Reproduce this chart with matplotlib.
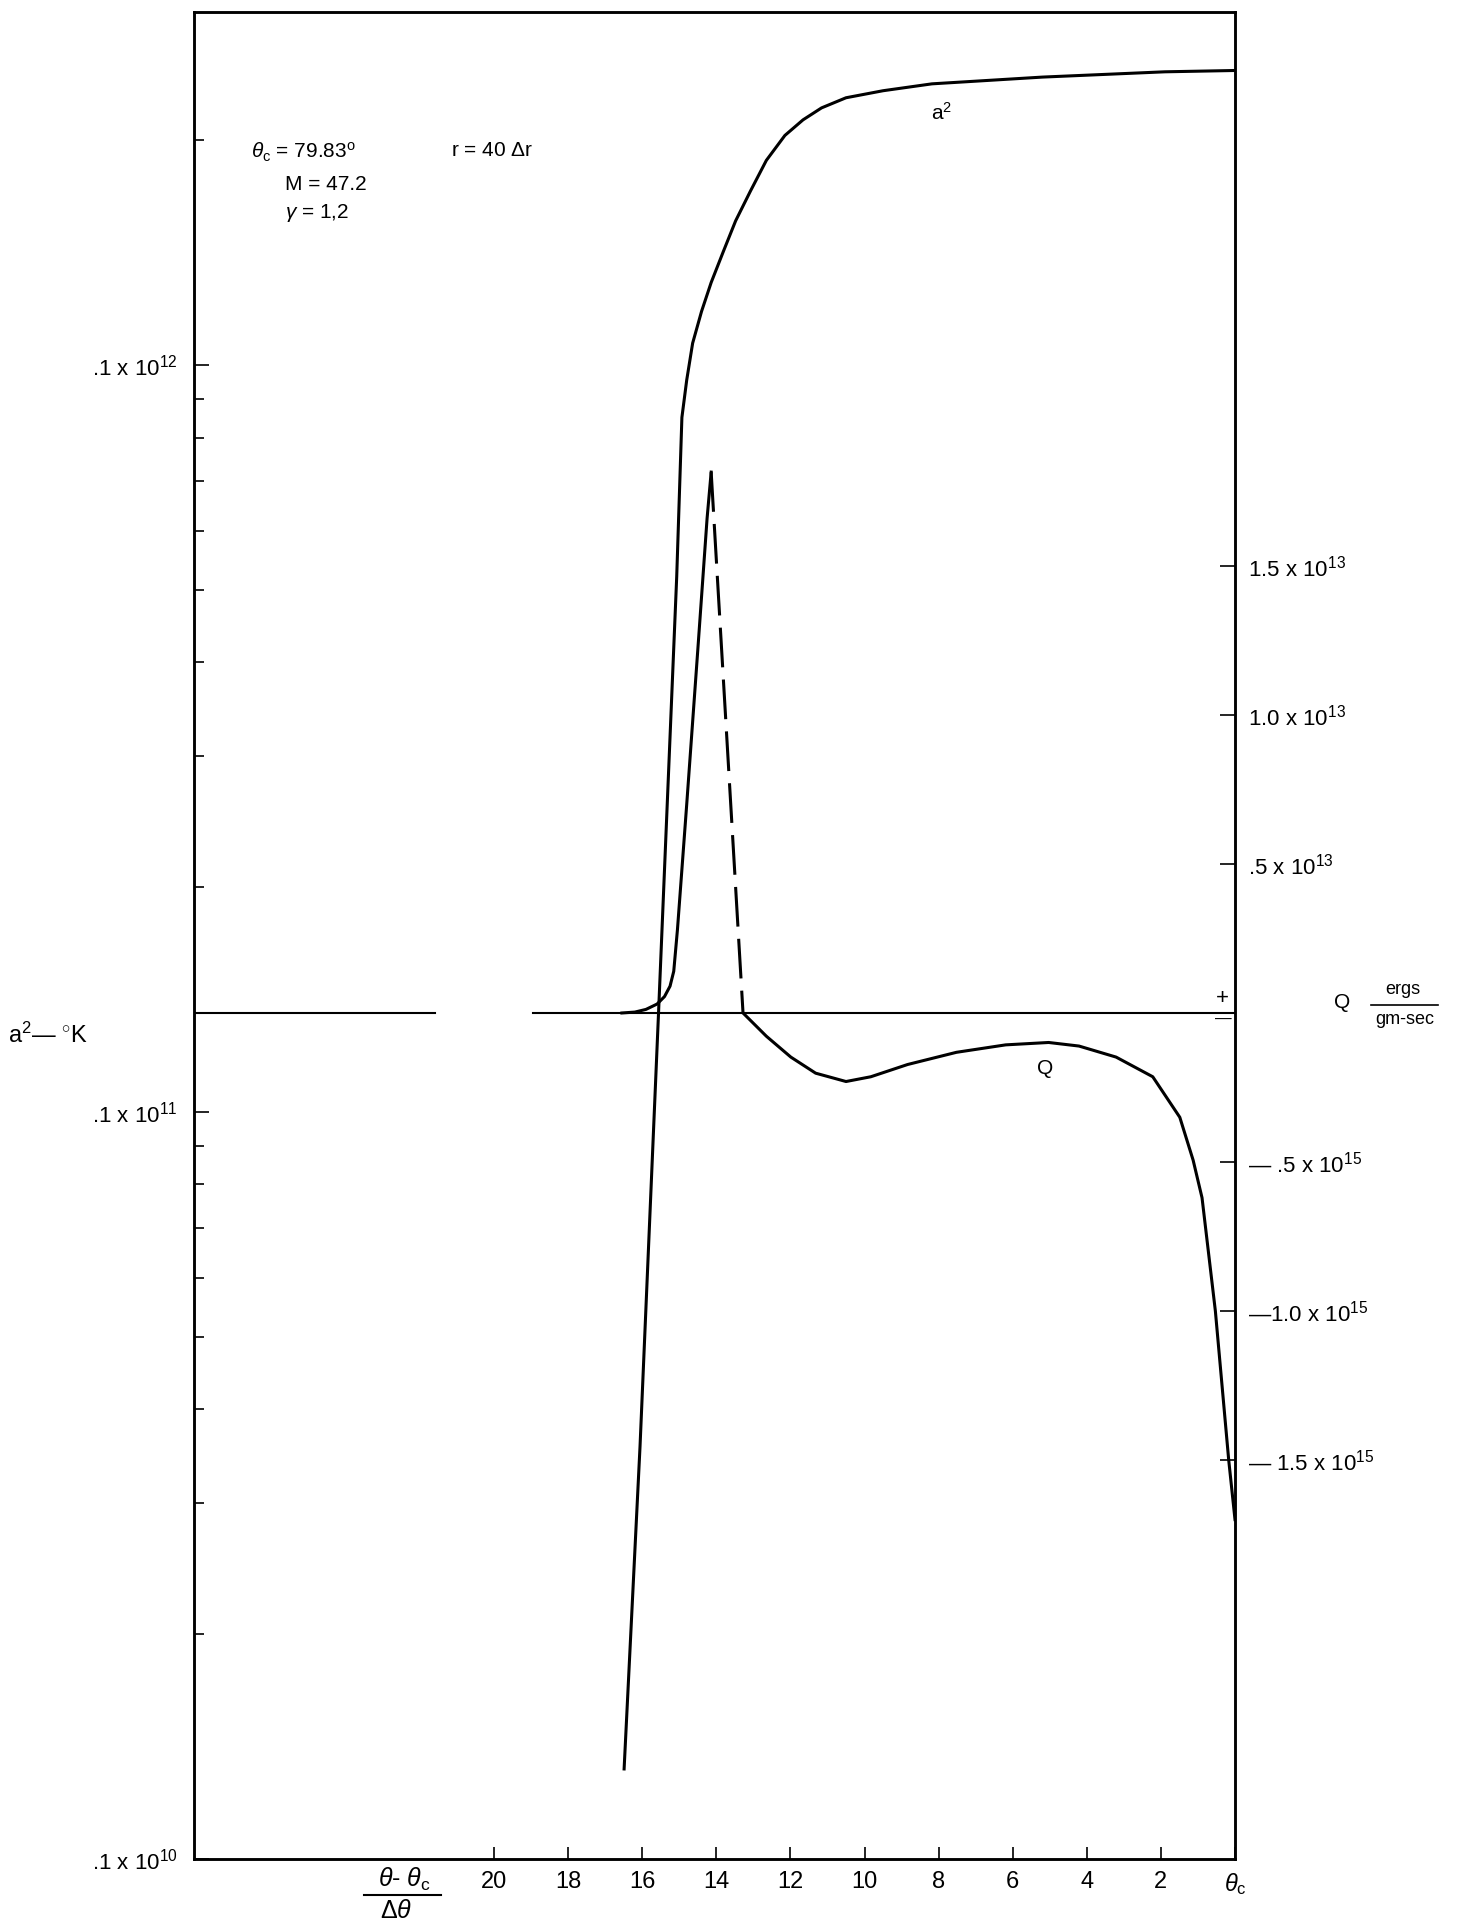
import matplotlib
matplotlib.use("Agg")
import matplotlib.pyplot as plt
from matplotlib.lines import Line2D
from matplotlib.ticker import LogLocator, NullFormatter, FixedLocator
from matplotlib import font_manager
import numpy as np

# a^2 (deg K) vs (theta - theta_c)/dtheta, left log axis
THETA_A2 = [16.49, 16.06, 15.56, 15.07, 14.93, 14.80, 14.64, 14.40, 14.14,
            13.81, 13.48, 13.08, 12.65, 12.15, 11.66, 11.16, 10.50, 9.50,
            8.18, 5.20, 1.89, 0.0]
A2 = [1.32e9, 3.57e9, 1.36e10, 5.21e10, 8.51e10, 9.55e10, 1.07e11, 1.18e11,
      1.29e11, 1.42e11, 1.56e11, 1.71e11, 1.88e11, 2.03e11, 2.13e11, 2.21e11,
      2.28e11, 2.33e11, 2.38e11, 2.43e11, 2.47e11, 2.48e11]

# Q (ergs/gm-sec), right axis; + side graduated in 1e13, - side in 1e15
THETA_Q_RISE = [16.55, 16.20, 15.90, 15.60, 15.40, 15.25, 15.15, 15.05,
                14.80, 14.50, 14.25, 14.14]
Q_RISE = [0.0, 0.003e13, 0.012e13, 0.030e13, 0.055e13, 0.090e13, 0.140e13,
          0.280e13, 0.700e13, 1.220e13, 1.660e13, 1.815e13]
THETA_Q_DASH = [14.14, 13.28]
Q_DASH = [1.815e13, 0.0]
THETA_Q_NEG = [13.28, 12.65, 11.99, 11.32, 10.50, 9.83, 8.84, 7.52, 6.19,
               5.03, 4.21, 3.21, 2.22, 1.49, 1.13, 0.89, 0.53, 0.17, 0.0]
Q_NEG = [0.0, -0.078e15, -0.148e15, -0.202e15, -0.230e15, -0.214e15,
         -0.173e15, -0.132e15, -0.107e15, -0.099e15, -0.111e15, -0.148e15,
         -0.214e15, -0.350e15, -0.494e15, -0.620e15, -1.000e15, -1.500e15,
         -1.700e15]

X_TICKS = [20, 18, 16, 14, 12, 10, 8, 6, 4, 2, 0]
X_TICK_LABELS = ["20", "18", "16", "14", "12", "10", "8", "6", "4", "2",
                 r"$\theta_{\rm c}$"]
A2_TICKS = [1e9, 1e10, 1e11]
A2_TICK_LABELS = [r".1 x 10$^{10}$", r".1 x 10$^{11}$", r".1 x 10$^{12}$"]
Q_TICKS = [1.5e13, 1.0e13, 0.5e13, -0.5e15, -1.0e15, -1.5e15]
Q_TICK_LABELS = [r"1.5 x 10$^{13}$", r"1.0 x 10$^{13}$", r".5 x 10$^{13}$",
                 r"— .5 x 10$^{15}$", r"—1.0 x 10$^{15}$",
                 r"— 1.5 x 10$^{15}$"]


def q_axis(q):
    q = np.asarray(q, dtype=float)
    return np.where(q >= 0, q / 1e13, q / 1e15)


W, H = 1457, 1923


def px(x, y):
    return x / W, 1 - y / H


plt.rcParams["font.family"] = ["Liberation Sans", "DejaVu Sans"]
plt.rcParams["mathtext.fontset"] = "custom"
plt.rcParams["mathtext.rm"] = "Liberation Sans"
plt.rcParams["mathtext.it"] = "Liberation Sans:italic"
plt.rcParams["mathtext.bf"] = "Liberation Sans:bold"

names = {f.name for f in font_manager.fontManager.ttflist}
narrow = "Liberation Sans Narrow" if "Liberation Sans Narrow" in names else "Liberation Sans"

fig = plt.figure(figsize=(W / 100, H / 100), dpi=100)
ax = fig.add_axes([194 / W, 1 - 1859 / H, 1041 / W, 1847 / H])
ax.set_yscale("log")
ax.set_xlim(28.1, 0)
ax.set_ylim(1e9, 2.97e11)

ax2 = ax.twinx()
ax2.set_ylim(-2.839, 3.359)

for a in (ax, ax2):
    for s in a.spines.values():
        s.set_linewidth(1.8)

# left axis
ax.yaxis.set_major_locator(FixedLocator(A2_TICKS))
ax.set_yticklabels(A2_TICK_LABELS)
ax.yaxis.set_minor_locator(LogLocator(base=10, subs=[2, 3, 4, 5, 6, 7, 8, 9]))
ax.yaxis.set_minor_formatter(NullFormatter())
ax.tick_params(axis="y", which="major", direction="in", length=11, width=1.2,
               pad=12, labelsize=16)
ax.tick_params(axis="y", which="minor", direction="in", length=7, width=1.2)

# bottom axis
ax.set_xticks(X_TICKS)
ax.set_xticklabels(X_TICK_LABELS)
ax.tick_params(axis="x", direction="in", length=9, width=1.2, pad=9,
               labelsize=17, top=False)
for lab in ax.get_xticklabels()[:-1]:
    lab.set_fontfamily(narrow)

# right axis
ax2.set_yticks(q_axis(Q_TICKS))
ax2.set_yticklabels(Q_TICK_LABELS)
ax2.tick_params(axis="y", direction="in", length=11, width=1.2, pad=9,
                labelsize=16)

# zero line (broken in the original)
ax2.axhline(0, xmin=0, xmax=0.2315, color="black", lw=1.5)
ax2.axhline(0, xmin=0.3257, xmax=1, color="black", lw=1.5)

# curves
ax.plot(THETA_A2, A2, color="black", lw=2.2, solid_joinstyle="round")
ax2.plot(THETA_Q_RISE, q_axis(Q_RISE), color="black", lw=2.2)
ax2.plot(THETA_Q_DASH, q_axis(Q_DASH), color="black", lw=2.2,
         linestyle=(0, (13, 4)))
ax2.plot(THETA_Q_NEG, q_axis(Q_NEG), color="black", lw=2.2)

# annotations
fig.text(*px(251, 152), r"$\theta_{\rm c}$ = 79.83$^{\rm o}$", fontsize=15,
         ha="left", va="center")
fig.text(*px(451, 150), r"r = 40 $\mathit{\Delta}$r", fontsize=15,
         ha="left", va="center")
fig.text(*px(285, 185), "M = 47.2", fontsize=15, ha="left", va="center")
fig.text(*px(285, 213), r"$\gamma$ = 1,2", fontsize=15, ha="left", va="center")
fig.text(*px(942, 113), r"a$^{2}$", fontsize=15, ha="center", va="center")
fig.text(*px(1045, 1069), "Q", fontsize=15, ha="center", va="center")

fig.text(*px(8, 1035), r"a$^{2}$— $^{\circ}$K", fontsize=17, ha="left",
         va="center")

fig.text(*px(1222, 998), "+", fontsize=16, ha="center", va="center")
fig.text(*px(1223, 1019), "—", fontsize=12, ha="center", va="center")

fig.text(*px(1342, 1003), "Q", fontsize=15, ha="center", va="center")
fig.text(*px(1403, 990), "ergs", fontsize=13, ha="center", va="center")
fig.text(*px(1405, 1020), "gm-sec", fontsize=13, ha="center", va="center")
fig.add_artist(Line2D([1371 / W, 1438 / W], [1 - 1005 / H, 1 - 1005 / H],
                      transform=fig.transFigure, color="black", lw=1.2))

# x-axis label as a stacked fraction
fig.text(*px(404, 1879), r"$\theta$- $\theta_{\rm c}$", fontsize=18,
         ha="center", va="center")
fig.text(*px(396, 1911), r"$\Delta\theta$", fontsize=18, ha="center",
         va="center")
fig.add_artist(Line2D([364 / W, 441 / W], [1 - 1895 / H, 1 - 1895 / H],
                      transform=fig.transFigure, color="black", lw=1.5))

fig.savefig("out.png", dpi=100)
